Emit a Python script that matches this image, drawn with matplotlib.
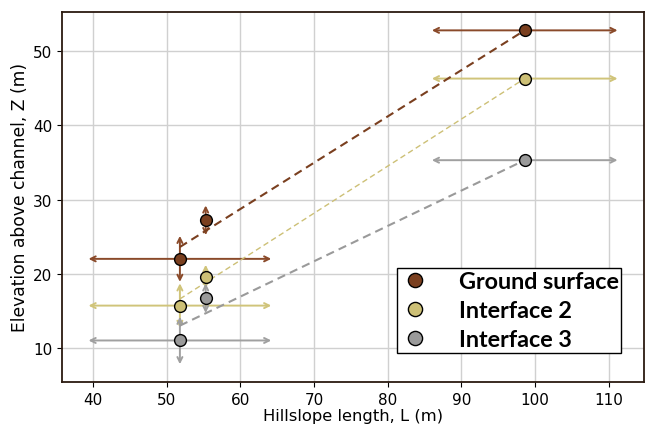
import numpy as np
import matplotlib.pyplot as plt

# hillslope length (m) and elevation above channel (m)
L = [51.8, 55.3, 98.6]
L_err = [12.4, 0.0, 12.6]

Z_ground = [22.0, 27.2, 52.8]
Z_ground_err = [3.1, 2.0, 0.0]
Z_int2 = [15.7, 19.6, 46.3]
Z_int2_err = [3.0, 1.6, 0.0]
Z_int3 = [11.0, 16.7, 35.3]
Z_int3_err = [3.2, 2.0, 0.0]

# fit lines (start, end)
fit_L = [51.8, 98.6]
fit_ground = [23.6, 52.8]
fit_int2 = [16.6, 46.3]
fit_int3 = [13.0, 35.3]

names = ['Ground surface', 'Interface 2', 'Interface 3']
cols = ['#7a3f1f', '#cdc076', '#9a9a9a']
bar_cols = ['#8a4a2a', '#d0c47a', '#a0a0a0']

fig, ax = plt.subplots(figsize=(6.46, 4.27), dpi=100)
fig.subplots_adjust(left=0.096, right=0.997, bottom=0.103, top=0.97)

series = [(Z_ground, Z_ground_err, fit_ground), (Z_int2, Z_int2_err, fit_int2), (Z_int3, Z_int3_err, fit_int3)]
lws = [1.5, 1.0, 1.5]

for k, (z, ze, fz) in enumerate(series):
    c = cols[k]
    bc = bar_cols[k]
    for i in range(len(L)):
        if L_err[i] > 0:
            ax.annotate('', xy=(L[i] - L_err[i], z[i]), xytext=(L[i] + L_err[i], z[i]),
                        arrowprops=dict(arrowstyle='<->', color=bc, lw=1.4, shrinkA=0, shrinkB=0,
                                        mutation_scale=9), zorder=2)
        if ze[i] > 0:
            ax.annotate('', xy=(L[i], z[i] - ze[i]), xytext=(L[i], z[i] + ze[i]),
                        arrowprops=dict(arrowstyle='<->', color=bc, lw=1.4, shrinkA=0, shrinkB=0,
                                        mutation_scale=9), zorder=2)
    ax.plot(fit_L, fz, '--', color=c, lw=lws[k], zorder=3, dashes=(4, 2.5))

for k, (z, ze, fz) in enumerate(series):
    ax.plot(L, z, 'o', color=cols[k], mec='black', mew=1.0, ms=8.5, zorder=4,
            linestyle='none', label=names[k])

ax.set_xlim(35.8, 114.8)
ax.set_ylim(5.4, 55.3)
ax.set_xticks([40, 50, 60, 70, 80, 90, 100, 110])
ax.set_yticks([10, 20, 30, 40, 50])
ax.grid(True, color='#d0d0d0', lw=1.0)
ax.set_axisbelow(True)
ax.tick_params(labelsize=11)
for s in ax.spines.values():
    s.set_color('#2b1a10')
    s.set_linewidth(1.3)

ax.set_xlabel('Hillslope length, L (m)', fontsize=11.8, labelpad=1)
ax.set_ylabel('Elevation above channel, Z (m)', fontsize=12.3, labelpad=3)

leg = ax.legend(loc='lower right', bbox_to_anchor=(0.961, 0.078), fancybox=False, framealpha=1,
                edgecolor='black', prop=dict(family='Lato', weight='bold', size=16.8),
                handletextpad=1.2, borderpad=0.12, labelspacing=0.35, handlelength=1.3,
                markerscale=1.2, borderaxespad=0)
leg.get_frame().set_linewidth(1.0)

plt.savefig('out.png', dpi=100)
